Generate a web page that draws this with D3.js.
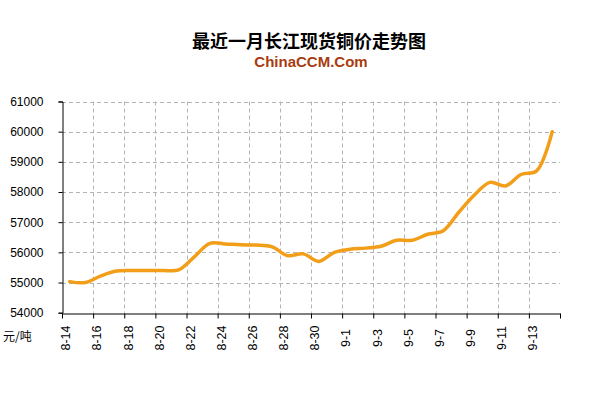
<!DOCTYPE html>
<html>
<head>
<meta charset="utf-8">
<script src="https://cdn.jsdelivr.net/npm/d3@7"></script>
<style>
  html, body { margin: 0; padding: 0; background: #fff; }
  svg { display: block; }
</style>
</head>
<body>
<svg id="chart" width="595" height="418"></svg>
<script>
const categories = [
  "8-14","8-15","8-16","8-17","8-18","8-19","8-20","8-21","8-22","8-23","8-24","8-25","8-26","8-27","8-28","8-29","8-30","8-31",
  "9-1","9-2","9-3","9-4","9-5","9-6","9-7","9-8","9-9","9-10","9-11","9-12","9-13","9-14"
];
const prices = [
  55030, 55000, 55220, 55380, 55400, 55400, 55400, 55420, 55850, 56300, 56280, 56250, 56240, 56180, 55890, 55950, 55700, 56000,
  56100, 56140, 56200, 56400, 56400, 56600, 56720, 57330, 57900, 58320, 58200, 58580, 58700, 60000
];
const yTicks = [54000, 55000, 56000, 57000, 58000, 59000, 60000, 61000];
const xLabelEvery = 2;
const title = "最近一月长江现货铜价走势图";
const subtitle = "ChinaCCM.Com";
const unitLabel = "元/吨";

const svg = d3.select("#chart");
const pLeft = 62, pRight = 560, pTop = 101.5, pBottom = 312.7;

const x = d3.scaleBand().domain(categories).range([pLeft, pRight]).padding(0);
const xb = d3.scaleLinear().domain([0, categories.length]).range([pLeft, pRight]);
const y = d3.scaleLinear().domain([54000, 61000]).range([pBottom, pTop]);

// grid
const grid = svg.append("g").attr("stroke", "#b4b4b4").attr("stroke-dasharray", "4,3").attr("stroke-width", 1);
grid.selectAll("line.h").data(yTicks.filter(d => d > 54000)).join("line")
  .attr("x1", pLeft).attr("x2", pRight)
  .attr("y1", d => Math.round(y(d)) + 0.5).attr("y2", d => Math.round(y(d)) + 0.5);
const vIdx = d3.range(xLabelEvery, categories.length, xLabelEvery);
grid.selectAll("line.v").data(vIdx).join("line")
  .attr("x1", d => Math.round(xb(d)) + 0.5).attr("x2", d => Math.round(xb(d)) + 0.5)
  .attr("y1", pTop).attr("y2", pBottom);

// axes
const yAxis = svg.append("g").attr("transform", `translate(${pLeft + 0.5},0)`)
  .call(d3.axisLeft(y).tickValues(yTicks).tickSize(4).tickPadding(15).tickFormat(d => String(d)));
yAxis.select(".domain").attr("stroke", "#000");
yAxis.selectAll(".tick line").attr("stroke", "#000");
yAxis.selectAll("text").attr("font-family", "'Liberation Sans', Arial, sans-serif").attr("font-size", 12).attr("fill", "#000");

const xAxis = svg.append("g").attr("transform", `translate(0,${Math.round(pBottom) + 0.5})`)
  .call(d3.axisBottom(xb).tickValues(d3.range(0, categories.length + 1, xLabelEvery)).tickSize(5).tickSizeOuter(0).tickFormat(""));
xAxis.select(".domain").attr("stroke", "#000");
xAxis.selectAll(".tick line").attr("stroke", "#000");

// x labels
svg.append("g").selectAll("text")
  .data(categories.filter((d, i) => i % xLabelEvery === 0))
  .join("text")
  .attr("transform", d => `translate(${x(d) + x.bandwidth() / 2 + 0.5},338) rotate(-90)`)
  .attr("text-anchor", "middle")
  .attr("font-family", "'Liberation Sans', Arial, sans-serif")
  .attr("font-size", 12.5)
  .attr("fill", "#000")
  .text(d => d);

// line
const line = d3.line()
  .x((d, i) => x(categories[i]) + x.bandwidth() / 2)
  .y(d => y(d))
  .curve(d3.curveCatmullRom.alpha(0.5));
svg.append("path").datum(prices)
  .attr("d", line)
  .attr("fill", "none")
  .attr("stroke", "#F29E18")
  .attr("stroke-width", 3.5)
  .attr("stroke-linejoin", "round")
  .attr("stroke-linecap", "round");

// titles
svg.append("text").attr("x", 309).attr("y", 48).attr("text-anchor", "middle")
  .attr("font-family", "'Noto Sans CJK SC', sans-serif").attr("font-weight", "bold")
  .attr("font-size", 18).attr("fill", "#000").text(title);
svg.append("text").attr("x", 311).attr("y", 67).attr("text-anchor", "middle")
  .attr("font-family", "'Liberation Sans', Arial, sans-serif").attr("font-weight", "bold")
  .attr("font-size", 15).attr("fill", "#A83C0E").text(subtitle);
svg.append("text").attr("x", 3).attr("y", 341)
  .attr("font-family", "'Noto Sans CJK SC', sans-serif")
  .attr("font-size", 12).attr("fill", "#000").text(unitLabel);
</script>
</body>
</html>
